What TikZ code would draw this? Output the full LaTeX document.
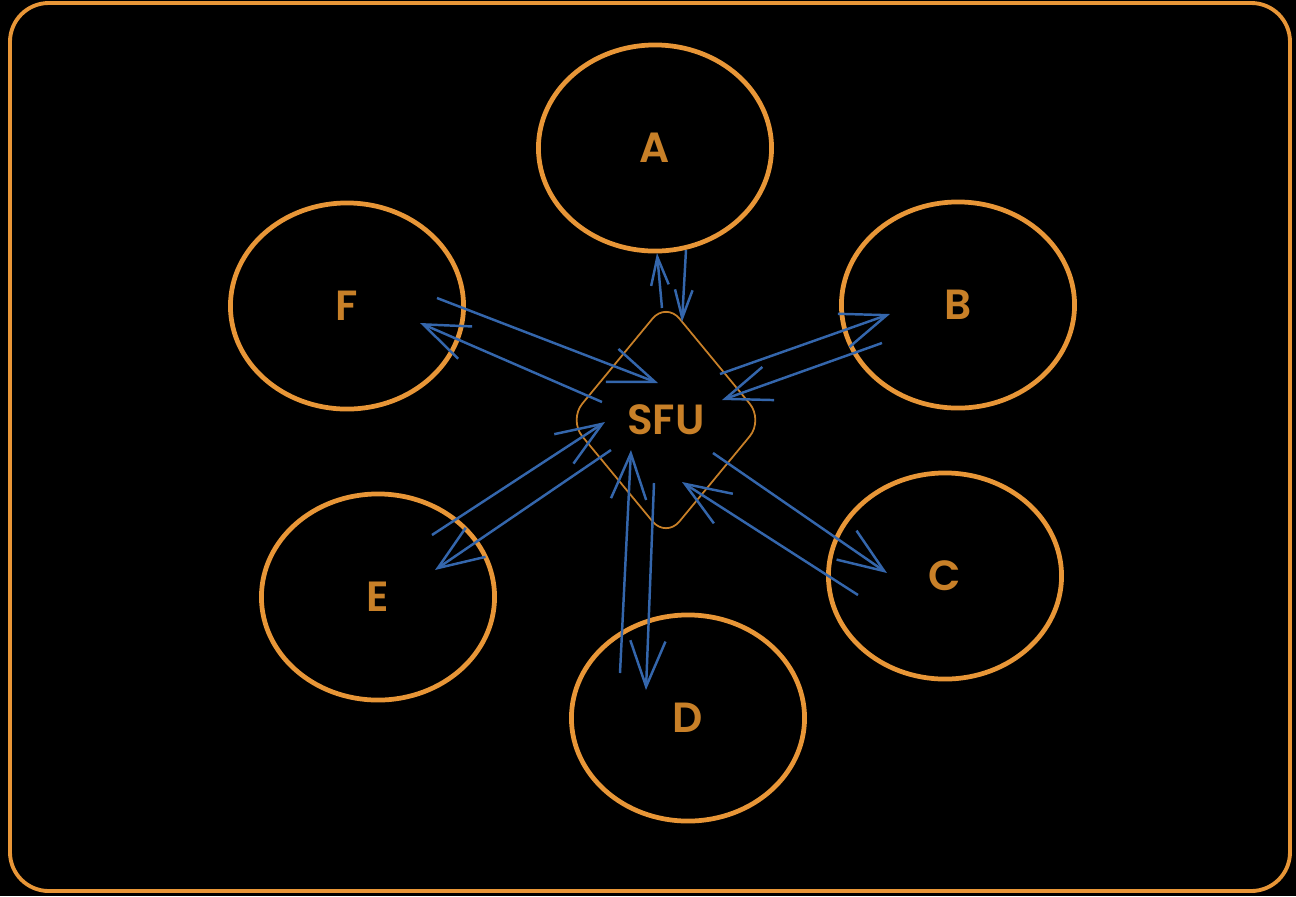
\documentclass[tikz,border=0pt]{standalone}
\usepackage{fontspec}
\setmainfont{Poppins}[BoldFont={Poppins SemiBold}]
\usetikzlibrary{shapes.geometric,arrows.meta}
\definecolor{frameorange}{HTML}{E89637}
\definecolor{labelorange}{HTML}{C88028}
\definecolor{linkblue}{HTML}{3466AC}
\tikzset{
  peer/.style={ellipse, draw=frameorange, line width=1.35pt,
    minimum width=2.33cm, minimum height=2.06cm, text=labelorange,
    font=\fontsize{12}{14}\selectfont\bfseries},
  hub/.style={diamond, draw=labelorange, line width=0.5pt,
    rounded corners=6pt, minimum width=1.95cm, minimum height=2.36cm,
    text=labelorange, font=\fontsize{12}{14}\selectfont\bfseries},
  link/.style={draw=linkblue, line width=0.7pt,
    -{Straight Barb[length=13pt,width=10pt]}},
  shortlink/.style={draw=linkblue, line width=0.7pt,
    -{Straight Barb[length=8pt,width=5pt]}}
}
\begin{document}
\begin{tikzpicture}[x=0.01cm,y=-0.01cm]
  \fill[black] (0,0) rectangle (1296,896);
  \useasboundingbox (0,0) rectangle (1296,896);
  \draw[frameorange, line width=1.1pt, rounded corners=11pt]
    (10,3) rectangle (1290,891);
  \draw
    (655,148) node[peer] (A){A}
    (958,305) node[peer] (B){B}
    (945,576) node[peer] (C){C}
    (688,718) node[peer] (D){D}
    (378,597) node[peer] (E){E}
    (347,306) node[peer] (F){F}
    (666,420) node[hub] (sfu){SFU};
  % arrow ends
  \path
    (662,308) coordinate (a-up0) (657,253) coordinate (a-up1)
    (686,250) coordinate (a-dn0) (682,322) coordinate (a-dn1)
    (720,374) coordinate (b-out0) (890,314) coordinate (b-out1)
    (882,343) coordinate (b-in0) (722,400) coordinate (b-in1)
    (713,453) coordinate (c-out0) (887,573) coordinate (c-out1)
    (858,595) coordinate (c-in0) (682,482) coordinate (c-in1)
    (620,673) coordinate (d-in0) (631,450) coordinate (d-in1)
    (654,483) coordinate (d-out0) (646,690) coordinate (d-out1)
    (432,535) coordinate (e-in0) (605,422) coordinate (e-in1)
    (611,450) coordinate (e-out0) (435,570) coordinate (e-out1)
    (437,298) coordinate (f-in0) (658,383) coordinate (f-in1)
    (602,402) coordinate (f-out0) (420,323) coordinate (f-out1);
  \begin{scope}[link]
    \draw[shortlink] (a-up0) to (a-up1);
    \draw[shortlink] (a-dn0) to (a-dn1);
    \draw (b-out0) to (b-out1);
    \draw (b-in0) to (b-in1);
    \draw (c-out0) to (c-out1);
    \draw (c-in0) to (c-in1);
    \draw (d-in0) to (d-in1);
    \draw (d-out0) to (d-out1);
    \draw (e-in0) to (e-in1);
    \draw (e-out0) to (e-out1);
    \draw (f-in0) to (f-in1);
    \draw (f-out0) to (f-out1);
  \end{scope}
\end{tikzpicture}
\end{document}
